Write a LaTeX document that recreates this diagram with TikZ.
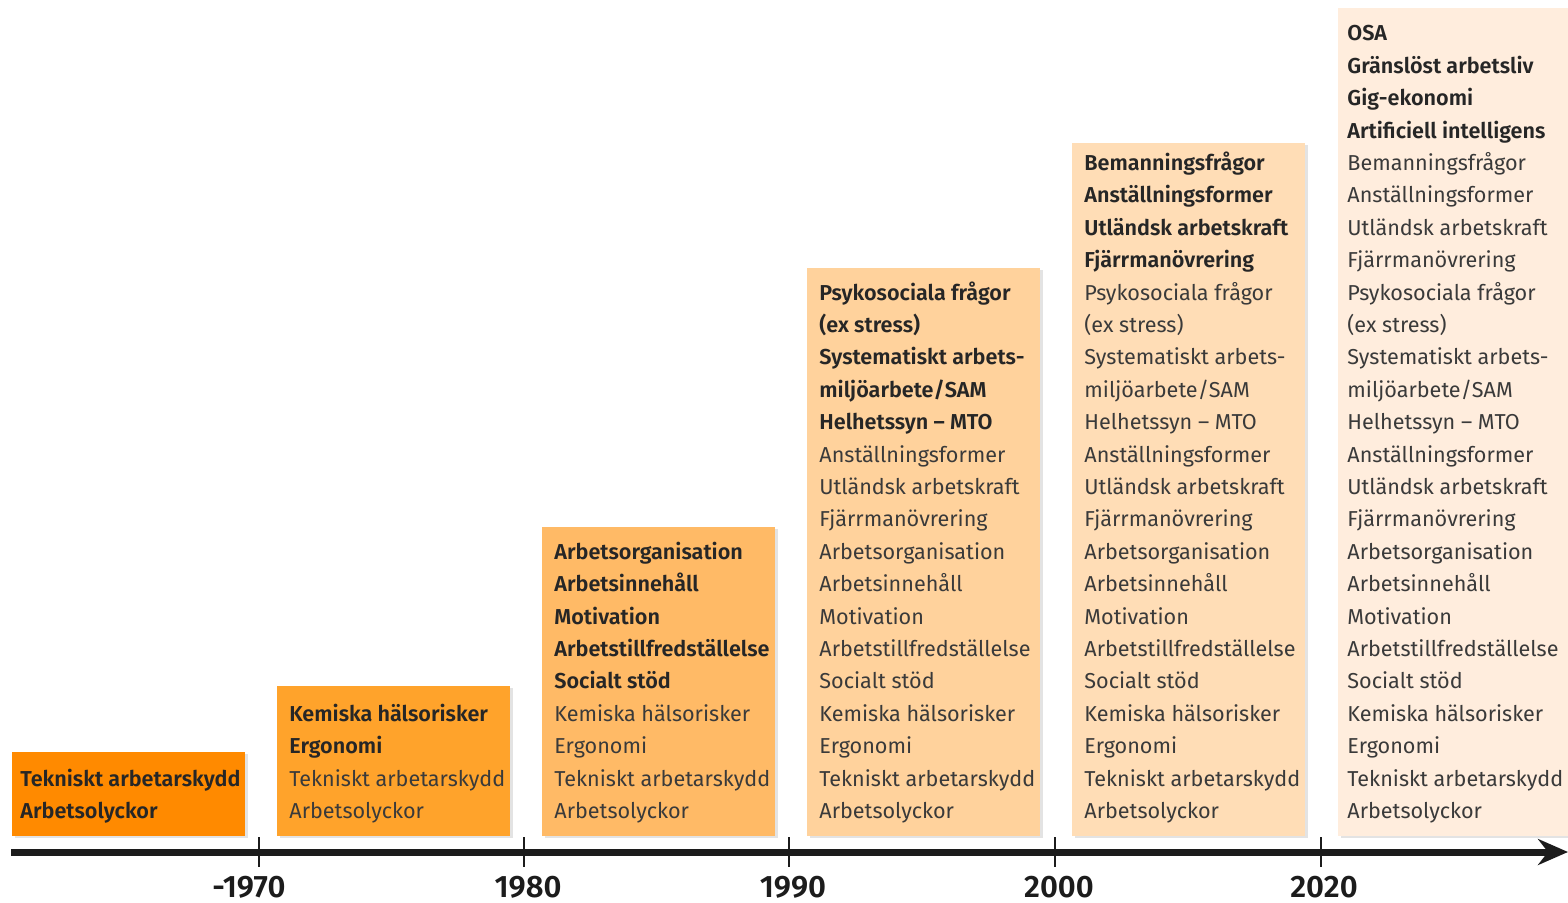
\documentclass[tikz,border=0pt]{standalone}
\usepackage{fontspec}
\setmainfont{Fira Sans}[BoldFont={Fira Sans SemiBold}]
\usetikzlibrary{arrows.meta,shadows}

\definecolor{era1}{HTML}{FF8A00}
\definecolor{era2}{HTML}{FFA32B}
\definecolor{era3}{HTML}{FFBA66}
\definecolor{era4}{HTML}{FFD29C}
\definecolor{era5}{HTML}{FFDDB6}
\definecolor{era6}{HTML}{FFEDDD}
\definecolor{ink}{HTML}{3A3A3A}
\definecolor{inkbold}{HTML}{262626}
\definecolor{axisblack}{HTML}{1C1C1C}

\tikzset{
    era/.style={anchor=south west, minimum width=116.5pt, inner sep=0pt,
        drop shadow={shadow xshift=1.2pt, shadow yshift=-1.2pt, opacity=0.22}},
    items/.style={anchor=south west, align=left, inner sep=0pt, text=ink,
        font=\fontsize{10.8}{16.2}\selectfont},
    axis/.style={line width=3.5pt, draw=axisblack,
        -{Stealth[length=15pt, width=13pt, inset=5pt]}},
    tick/.style={line width=1.4pt, draw=axisblack},
    year/.style={font=\fontsize{15.5}{16}\selectfont\bfseries, text=axisblack},
}
\newcommand{\hd}[1]{{\color{inkbold}\bfseries #1}}
\newcommand{\oldtopics}{Kemiska hälsorisker\\Ergonomi\\Tekniskt arbetarskydd\\Arbetsolyckor\strut}
\newcommand{\midtopics}{Arbetsorganisation\\Arbetsinnehåll\\Motivation\\Arbetstillfredställelse\\Socialt stöd}
\newcommand{\psytopics}{Psykosociala frågor\\(ex stress)\\Systematiskt arbets-\\miljöarbete/SAM\\Helhetssyn -- MTO}
\newcommand{\formtopics}{Anställningsformer\\Utländsk arbetskraft\\Fjärrmanövrering}

\begin{document}
\begin{tikzpicture}[x=0.5pt, y=-0.5pt]
    \useasboundingbox (0,0) rectangle (1568,903);

    % period boxes, all standing on the same baseline
    \node[era, fill=era1, minimum height=42pt] (era1) at (12,836) {};
    \node[era, fill=era2, minimum height=75pt] (era2) at (277,836) {};
    \node[era, fill=era3, minimum height=154.5pt] (era3) at (542,836) {};
    \node[era, fill=era4, minimum height=284pt] (era4) at (807,836) {};
    \node[era, fill=era5, minimum height=346.5pt] (era5) at (1072,836) {};
    \node[era, fill=era6, minimum height=414pt, minimum width=122pt] (era6) at (1338,836) {};

    \node[items] (list1) at ([shift={(4pt,3.7pt)}]era1.south west)
        {\hd{Tekniskt arbetarskydd}\\\hd{Arbetsolyckor}\strut};
    \node[items] (list2) at ([shift={(6pt,3.7pt)}]era2.south west)
        {\hd{Kemiska hälsorisker}\\\hd{Ergonomi}\\Tekniskt arbetarskydd\\Arbetsolyckor\strut};
    \node[items] (list3) at ([shift={(6pt,3.7pt)}]era3.south west)
        {\hd{Arbetsorganisation}\\\hd{Arbetsinnehåll}\\\hd{Motivation}\\\hd{Arbetstillfredställelse}\\\hd{Socialt stöd}\\\oldtopics};
    \node[items] (list4) at ([shift={(6pt,3.7pt)}]era4.south west)
        {\hd{Psykosociala frågor}\\\hd{(ex stress)}\\\hd{Systematiskt arbets-}\\\hd{miljöarbete/SAM}\\\hd{Helhetssyn -- MTO}\\
         \formtopics\\\midtopics\\\oldtopics};
    \node[items] (list5) at ([shift={(6pt,3.7pt)}]era5.south west)
        {\hd{Bemanningsfrågor}\\\hd{Anställningsformer}\\\hd{Utländsk arbetskraft}\\\hd{Fjärrmanövrering}\\
         \psytopics\\\formtopics\\\midtopics\\\oldtopics};
    \node[items] (list6) at ([shift={(4.5pt,3.7pt)}]era6.south west)
        {\hd{OSA}\\\hd{Gränslöst arbetsliv}\\\hd{Gig-ekonomi}\\\hd{Artificiell intelligens}\\
         Bemanningsfrågor\\\formtopics\\\psytopics\\\formtopics\\\midtopics\\\oldtopics};

    % time axis
    \coordinate (axisstart) at (11,852);
    \coordinate (axisend) at (1568,852);
    \draw[axis] (axisstart) -- (axisend);
    \foreach \x/\yr/\dx [count=\i] in {259/-1970/-10, 524/1980/4, 789/1990/4, 1055/2000/4, 1321/2020/3} {
        \coordinate (tick\i) at (\x,852);
        \draw[tick] ([yshift=7.5pt]tick\i) -- ([yshift=-7.5pt]tick\i);
        \node[year] (year\i) at (\x+\dx,887) {\yr};
    }
\end{tikzpicture}
\end{document}
